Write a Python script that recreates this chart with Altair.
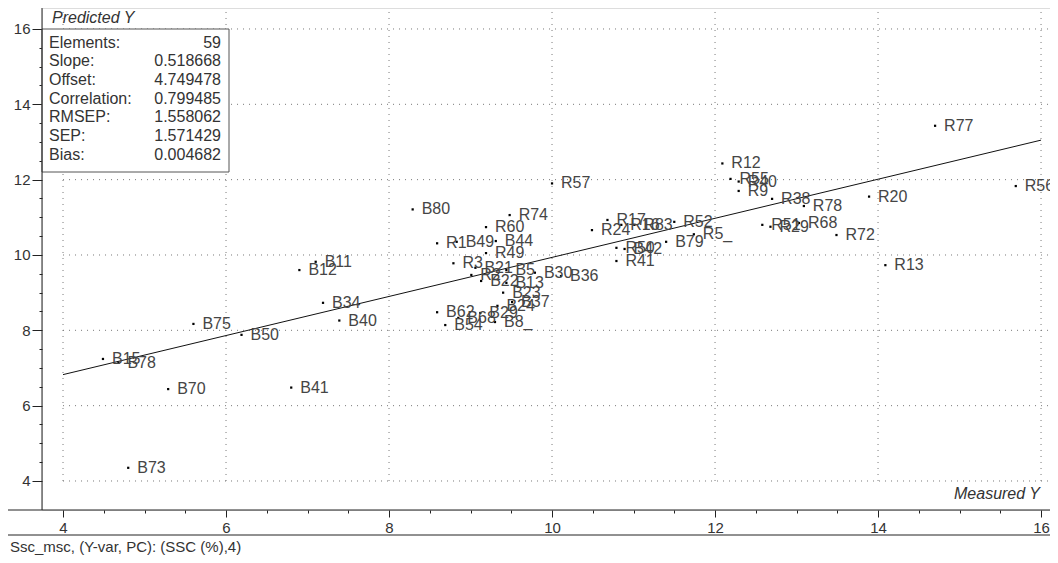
import altair as alt
import pandas as pd

# ---------------- data ----------------
names = ["R77", "R56", "R20", "R72", "R13", "R12", "R55", "R40", "R9", "R38", "R78",
         "R51", "R29", "R68", "R52", "R5_", "B79", "R17", "R24", "R16", "R83",
         "R50", "B42", "R41", "R57", "B80", "R74", "R60", "B44", "B49", "R1",
         "R49", "R3", "B21", "B5", "B30", "B36", "B22", "R2", "B13", "B23",
         "B37", "B24", "B62", "B68", "B29", "B54", "B8_", "B11", "B12", "B34",
         "B40", "B75", "B50", "B15", "B78", "B70", "B41", "B73"]
measured = [14.70, 15.69, 13.89, 13.49, 14.09, 12.09, 12.19, 12.29, 12.29, 12.70, 13.09,
            12.58, 12.68, 13.03, 11.50, 11.74, 11.40, 10.68, 10.49, 10.85, 11.01,
            10.79, 10.89, 10.79, 10.00, 8.29, 9.48, 9.19, 9.31, 8.83, 8.59,
            9.19, 8.79, 9.06, 9.44, 9.79, 10.11, 9.13, 9.01, 9.44, 9.40,
            9.51, 9.33, 8.59, 8.85, 9.12, 8.69, 9.30, 7.10, 6.90, 7.19,
            7.39, 5.60, 6.19, 4.49, 4.68, 5.29, 6.80, 4.80]
predicted = [13.43, 11.83, 11.55, 10.53, 9.73, 12.43, 12.02, 11.95, 11.70, 11.49, 11.30,
             10.80, 10.75, 10.85, 10.88, 10.55, 10.35, 10.93, 10.66, 10.80, 10.80,
             10.19, 10.16, 9.84, 11.90, 11.21, 11.06, 10.74, 10.37, 10.35, 10.31,
             10.05, 9.78, 9.66, 9.60, 9.53, 9.44, 9.31, 9.47, 9.26, 9.00,
             8.75, 8.65, 8.48, 8.33, 8.46, 8.14, 8.22, 9.82, 9.60, 8.73,
             8.26, 8.17, 7.88, 7.24, 7.14, 6.44, 6.48, 4.35]

line_x = [4, 16]
line_y = [6.824, 13.049]

stat_names = ["Elements:", "Slope:", "Offset:", "Correlation:", "RMSEP:", "SEP:", "Bias:"]
stat_values = ["59", "0.518668", "4.749478", "0.799485", "1.558062", "1.571429", "0.004682"]

grid_vals = [4, 6, 8, 10, 12, 14, 16]
tick_vals = [v / 2 for v in range(8, 33)]  # 4, 4.5, ..., 16

FONT = "Liberation Sans"
W, H = 1008, 502

xs = alt.Scale(domain=[3.742, 16.11], nice=False, zero=False)
ys = alt.Scale(domain=[3.23, 16.557], nice=False, zero=False)

pts = pd.DataFrame({"name": names, "m": measured, "p": predicted})
line_df = pd.DataFrame({"x": line_x, "y": line_y})
grid_df = pd.DataFrame({"g": grid_vals})
one = pd.DataFrame({"a": [0]})

major_test = "datum.value % 2 === 0"
x_axis = alt.Axis(
    values=tick_vals, labelExpr=f"{major_test} ? format(datum.value, 'd') : ''",
    domain=False, grid=False, title=None,
    tickSize={"condition": {"test": major_test, "value": 7}, "value": 3},
    tickColor="#222", labelColor="#333", labelFont=FONT, labelFontSize=15,
    labelPadding=3, labelFlush=False, labelOverlap=False,
)
y_axis = alt.Axis(
    values=tick_vals, labelExpr=f"{major_test} ? format(datum.value, 'd') : ''",
    domain=False, grid=False, title=None,
    tickSize={"condition": {"test": major_test, "value": 10}, "value": 3},
    tickColor="#222", labelColor="#333", labelFont=FONT, labelFontSize=15,
    labelPadding=2, labelFlush=False, labelOverlap=False,
)

vgrid = alt.Chart(grid_df).mark_rule(color="#777", strokeDash=[1, 5], strokeWidth=1).encode(
    x=alt.X("g:Q", scale=xs, axis=x_axis),
    y=alt.YDatum(4, scale=ys, axis=y_axis),
    y2=alt.value(0),
)
hgrid = alt.Chart(grid_df).mark_rule(color="#777", strokeDash=[1, 5], strokeWidth=1).encode(
    y=alt.Y("g:Q", scale=ys, axis=y_axis),
    x=alt.XDatum(4, scale=xs, axis=x_axis),
    x2=alt.value(W),
)

box = alt.Chart(one).mark_rect(fill="white", stroke="#555", strokeWidth=1).encode(
    x=alt.value(0), x2=alt.value(187), y=alt.value(21), y2=alt.value(164)
)
stat_lbl = alt.Chart(one).mark_text(
    align="left", baseline="middle", font=FONT, fontSize=16, color="#333",
    lineBreak="\n", lineHeight=18.7,
).encode(x=alt.value(7), y=alt.value(34.7), text=alt.value("\n".join(stat_names)))
stat_val = alt.Chart(one).mark_text(
    align="right", baseline="middle", font=FONT, fontSize=16, color="#333",
    lineBreak="\n", lineHeight=18.7,
).encode(x=alt.value(179), y=alt.value(34.7), text=alt.value("\n".join(stat_values)))

reg = alt.Chart(line_df).mark_line(color="#111", strokeWidth=1).encode(
    x=alt.X("x:Q", scale=xs, axis=x_axis),
    y=alt.Y("y:Q", scale=ys, axis=y_axis),
)

dots = alt.Chart(pts).mark_square(size=5, color="black", opacity=1).encode(
    x=alt.X("m:Q", scale=xs, axis=x_axis),
    y=alt.Y("p:Q", scale=ys, axis=y_axis),
)
labels = alt.Chart(pts).mark_text(
    align="left", baseline="middle", dx=9, font=FONT, fontSize=16, color="#454545"
).encode(
    x=alt.X("m:Q", scale=xs, axis=x_axis),
    y=alt.Y("p:Q", scale=ys, axis=y_axis),
    text="name:N",
)

xline = alt.Chart(one).mark_rule(color="#222", strokeWidth=1).encode(
    x=alt.value(-34), x2=alt.value(W), y=alt.value(H)
)
yline = alt.Chart(one).mark_rule(color="#222", strokeWidth=1).encode(
    x=alt.value(0), y=alt.value(0), y2=alt.value(H)
)
sep = alt.Chart(one).mark_rule(color="#222", strokeWidth=1).encode(
    x=alt.value(-34), x2=alt.value(W), y=alt.value(H + 25)
)
ytitle = alt.Chart(one).mark_text(
    align="left", baseline="middle", font=FONT, fontSize=16, fontStyle="italic", color="#333"
).encode(x=alt.value(10), y=alt.value(10), text=alt.value("Predicted Y"))
xtitle = alt.Chart(one).mark_text(
    align="right", baseline="middle", font=FONT, fontSize=16, fontStyle="italic", color="#333"
).encode(x=alt.value(998), y=alt.value(486), text=alt.value("Measured Y"))
footer = alt.Chart(one).mark_text(
    align="left", baseline="middle", font=FONT, fontSize=15, color="#333"
).encode(x=alt.value(-32), y=alt.value(539), text=alt.value("Ssc_msc, (Y-var, PC): (SSC (%),4)"))

chart = alt.layer(
    vgrid, hgrid, box, stat_lbl, stat_val, reg, dots, labels,
    xline, yline, sep, ytitle, xtitle, footer,
).properties(
    width=W, height=H,
    autosize=alt.AutoSizeParams(type="none"),
    padding={"left": 34, "top": 0, "right": 0, "bottom": 45},
).configure_view(stroke=None).configure(background="white")

chart.save("out.html", embed_options={"renderer": "svg", "actions": False})
